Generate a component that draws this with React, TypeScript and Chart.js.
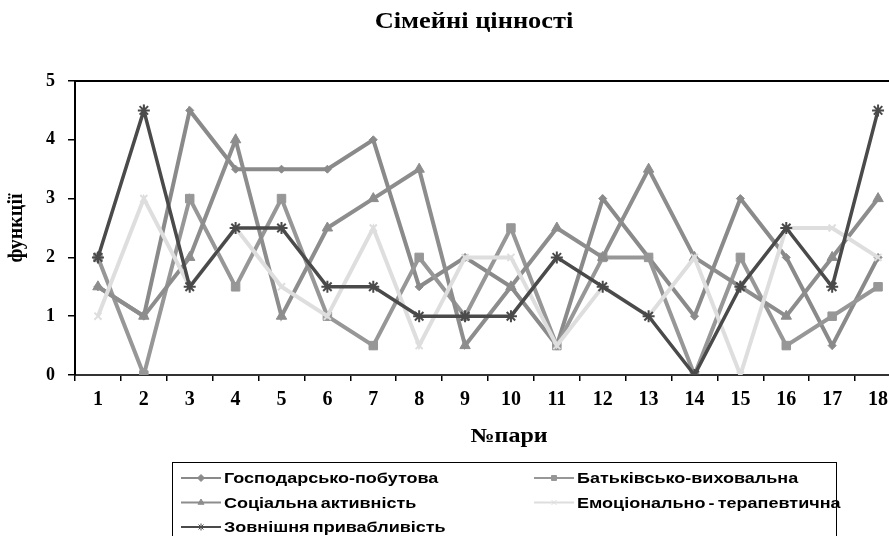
import React, { useEffect, useRef } from "react";
import { Chart, registerables } from "chart.js";
import { drawPoint } from "chart.js/helpers";

Chart.register(...registerables);

const chartTitle = "Сімейні цінності";
const xAxisTitle = "№пари";
const yAxisTitle = "функції";

const categories = ["1", "2", "3", "4", "5", "6", "7", "8", "9", "10", "11", "12", "13", "14", "15", "16", "17", "18"];
const yTicks = [0, 1, 2, 3, 4, 5];

const seriesNames = [
  "Господарсько-побутова",
  "Батьківсько-виховальна",
  "Соціальна активність",
  "Емоціонально - терапевтична",
  "Зовнішня привабливість",
];

const householdValues = [1.5, 1, 4.5, 3.5, 3.5, 3.5, 4, 1.5, 2, 1.5, 0.5, 3, 2, 1, 3, 2, 0.5, 2];
const parentingValues = [2, 0, 3, 1.5, 3, 1, 0.5, 2, 1, 2.5, 0.5, 2, 2, 0, 2, 0.5, 1, 1.5];
const socialValues = [1.5, 1, 2, 4, 1, 2.5, 3, 3.5, 0.5, 1.5, 2.5, 2, 3.5, 2, 1.5, 1, 2, 3];
const emotionalValues = [1, 3, 1.5, 2.5, 1.5, 1, 2.5, 0.5, 2, 2, 0.5, 1.5, 1, 2, 0, 2.5, 2.5, 2];
const appearanceValues = [2, 4.5, 1.5, 2.5, 2.5, 1.5, 1.5, 1, 1, 1, 2, 1.5, 1, 0, 1.5, 2.5, 1.5, 4.5];

const seriesValues = [householdValues, parentingValues, socialValues, emotionalValues, appearanceValues];
const seriesColors = ["#8a8a8a", "#979797", "#8d8d8d", "#dedede", "#4a4a4a"];
const seriesMarkers = ["rectRot", "rect", "triangle", "crossRot", "star"];
const markerRadius = [4, 6, 6, 5, 6];

const CANVAS_W = 950;
const CANVAS_H = 536;

function scaledText(ctx: any, text: string, x: number, y: number, sx: number) {
  ctx.save();
  ctx.translate(x, y);
  ctx.scale(sx, 1);
  ctx.fillText(text, 0, 0);
  ctx.restore();
}

const decorPlugin = {
  id: "decor",
  afterDraw(chart: any) {
    const { ctx, chartArea: a } = chart;
    ctx.save();
    // plot area frame (top & right)
    ctx.strokeStyle = "#000";
    ctx.lineWidth = 2;
    ctx.beginPath();
    ctx.moveTo(a.left, a.top);
    ctx.lineTo(a.right, a.top);
    ctx.lineTo(a.right, a.bottom);
    ctx.stroke();

    // title
    ctx.fillStyle = "#000";
    ctx.textAlign = "center";
    ctx.textBaseline = "middle";
    ctx.font = "bold 24px 'Liberation Serif'";
    scaledText(ctx, chartTitle, 474, 22, 1.1);

    // x axis title
    ctx.font = "bold 20px 'Liberation Serif'";
    scaledText(ctx, xAxisTitle, 509, 437, 1.2);

    // y axis title
    ctx.save();
    ctx.translate(17, 228);
    ctx.rotate(-Math.PI / 2);
    ctx.fillText(yAxisTitle, 0, 0);
    ctx.restore();

    // legend box
    ctx.strokeStyle = "#000";
    ctx.lineWidth = 1;
    ctx.strokeRect(172.5, 462.5, 664, 90);
    ctx.font = "bold 15px 'Liberation Sans'";
    ctx.textAlign = "left";
    try {
      (ctx as any).wordSpacing = "-1.5px";
    } catch (e) {}
    chart.data.datasets.forEach((ds: any, i: number) => {
      const col = i % 2;
      const row = Math.floor(i / 2);
      const x0 = col ? 534 : 181;
      const y = 478 + row * 24.5;
      ctx.strokeStyle = ds.borderColor;
      ctx.lineWidth = 2;
      ctx.beginPath();
      ctx.moveTo(x0, y);
      ctx.lineTo(x0 + 40, y);
      ctx.stroke();
      ctx.fillStyle = ds.borderColor;
      ctx.lineWidth = 1;
      drawPoint(ctx, { pointStyle: ds.pointStyle, radius: 3.5, rotation: 0, borderWidth: 1 }, x0 + 20, y);
      ctx.fillStyle = "#000";
      scaledText(ctx, ds.label, x0 + 43, y + 1, 1.2);
    });
    ctx.restore();
  },
};

export default function App() {
  const canvasRef = useRef<HTMLCanvasElement | null>(null);

  useEffect(() => {
    if (!canvasRef.current) return;
    const datasets = seriesNames.map((name, i) => ({
      label: name,
      data: seriesValues[i],
      borderColor: seriesColors[i],
      backgroundColor: seriesColors[i],
      pointBackgroundColor: seriesColors[i],
      pointBorderColor: seriesColors[i],
      pointStyle: seriesMarkers[i],
      pointRadius: markerRadius[i],
      pointBorderWidth: i >= 3 ? 2 : 1,
      borderWidth: i === 4 ? 3.5 : 4,
      tension: 0,
      order: 5 - i,
    }));
    const chart = new Chart(canvasRef.current, {
      type: "line",
      data: { labels: categories, datasets },
      options: {
        animation: false,
        responsive: false,
        layout: { padding: { top: 81, right: 49, left: 0, bottom: 0 } },
        plugins: { legend: { display: false }, title: { display: false }, tooltip: { enabled: false } },
        scales: {
          x: {
            type: "category",
            offset: true,
            grid: { display: true, drawOnChartArea: false, offset: true, tickLength: 6, color: "#000", lineWidth: 1.5 },
            border: { display: true, color: "#333", width: 2 },
            ticks: {
              font: { family: "'Liberation Serif'", weight: "bold", size: 20 },
              color: "#000",
              padding: 7,
              maxRotation: 0,
              autoSkip: false,
            },
            afterFit: (s: any) => {
              s.height = 161;
            },
          },
          y: {
            min: yTicks[0],
            max: yTicks[yTicks.length - 1],
            grid: { display: true, drawOnChartArea: false, tickLength: 7, color: "#000", lineWidth: 1.5 },
            border: { display: true, color: "#000", width: 2 },
            ticks: {
              stepSize: 1,
              font: { family: "'Liberation Serif'", weight: "bold", size: 18 },
              color: "#000",
              padding: 13,
            },
            afterFit: (s: any) => {
              s.width = 75;
            },
          },
        },
      },
      plugins: [decorPlugin],
    });
    return () => chart.destroy();
  }, []);

  return (
    <div style={{ position: "absolute", left: 0, top: 0, width: 889, height: 536, overflow: "hidden", background: "#fff" }}>
      <canvas ref={canvasRef} width={CANVAS_W} height={CANVAS_H} style={{ display: "block" }} />
    </div>
  );
}
